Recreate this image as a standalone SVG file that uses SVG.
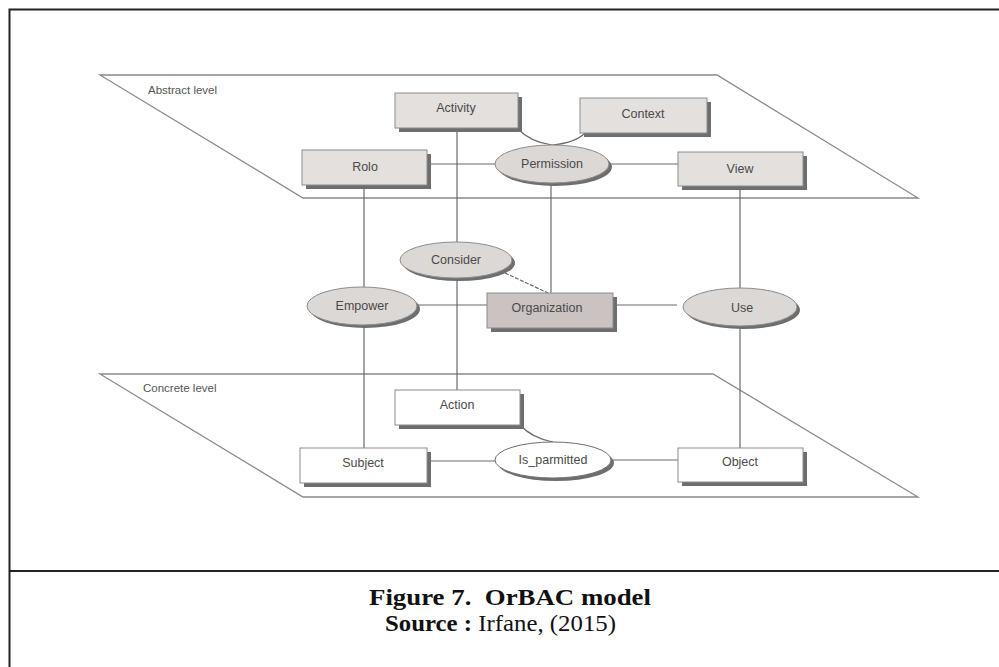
<svg xmlns="http://www.w3.org/2000/svg" width="999" height="667" viewBox="0 0 999 667">
<style>
.plane{fill:none;stroke:#8a8a8a;stroke-width:1.3}
.lvl{font-family:"Liberation Sans",Arial,sans-serif;font-size:11.5px;fill:#555}
.box{fill:#e4e0de;stroke:#8c8c8c;stroke-width:1}
.wbox{fill:#ffffff;stroke:#8c8c8c;stroke-width:1}
.obox{fill:#cbc2c2;stroke:#8c8c8c;stroke-width:1}
.sh{fill:#6e6e6e}
.ell{fill:#dcd8d6;stroke:#8c8c8c;stroke-width:1}
.well{fill:#ffffff;stroke:#6e6e6e;stroke-width:1}
.lbl{font-family:"Liberation Sans",Arial,sans-serif;font-size:12.5px;fill:#4a4a4a;text-anchor:middle}
.con{fill:none;stroke:#6a6a6a;stroke-width:1.2}
.cap{font-family:"Liberation Serif","Times New Roman",serif;font-size:23px;fill:#111}
</style>
<rect width="999" height="667" fill="#ffffff"/>
<g id="frame" fill="none" stroke="#222" stroke-width="2">
<path d="M9.5,667 V9.5 H999"/>
<line x1="9" y1="571" x2="999" y2="571"/>
</g>
<g id="abstract-level">
<polygon class="plane" points="100,75 717,75 918,198 303,198"/>
<text class="lvl" x="148" y="94">Abstract level</text>
</g>
<g id="concrete-level">
<polygon class="plane" points="100,374 713,374 918,497 303,497"/>
<text class="lvl" x="143" y="392">Concrete level</text>
</g>
<g id="connectors">
<line class="con" x1="457" y1="128" x2="457" y2="390"/>
<line class="con" x1="364" y1="185" x2="364" y2="448"/>
<line class="con" x1="740" y1="185" x2="740" y2="448"/>
<line class="con" x1="551" y1="183" x2="551" y2="293"/>
<line class="con" x1="427" y1="164" x2="495" y2="164"/>
<line class="con" x1="609" y1="164" x2="678" y2="164"/>
<path class="con" d="M517,128 Q530,142 552,145"/>
<path class="con" d="M585,133 Q575,143 552,145"/>
<line class="con" x1="417" y1="305" x2="487" y2="305"/>
<line class="con" x1="613" y1="305" x2="677" y2="305"/>
<line class="con" x1="505" y1="273" x2="548" y2="293" stroke-dasharray="4,1.5"/>
<line class="con" x1="427" y1="461" x2="495" y2="461"/>
<line class="con" x1="611" y1="460" x2="678" y2="460"/>
<path class="con" d="M520,425 Q532,438 553,442"/>
</g>
<g id="activity">
<rect class="sh" x="399" y="97" width="123" height="35"/>
<rect class="box" x="395" y="93" width="123" height="35"/>
<text class="lbl" x="456" y="112">Activity</text>
</g>
<g id="context">
<rect class="sh" x="584" y="102" width="127" height="35"/>
<rect class="box" x="580" y="98" width="127" height="35"/>
<text class="lbl" x="643" y="118">Context</text>
</g>
<g id="role">
<rect class="sh" x="306" y="154" width="125" height="35"/>
<rect class="box" x="302" y="150" width="125" height="35"/>
<text class="lbl" x="365" y="171">Rolo</text>
</g>
<g id="permission">
<ellipse class="sh" cx="555" cy="167" rx="57" ry="19"/>
<ellipse class="ell" cx="552" cy="164" rx="57" ry="19"/>
<text class="lbl" x="552" y="168">Permission</text>
</g>
<g id="view">
<rect class="sh" x="682" y="156" width="125" height="34"/>
<rect class="box" x="678" y="152" width="125" height="34"/>
<text class="lbl" x="740" y="173">View</text>
</g>
<g id="consider">
<ellipse class="sh" cx="459" cy="263" rx="56" ry="18"/>
<ellipse class="ell" cx="456" cy="260" rx="56" ry="18"/>
<text class="lbl" x="456" y="264">Consider</text>
</g>
<g id="empower">
<ellipse class="sh" cx="365" cy="309" rx="55" ry="19"/>
<ellipse class="ell" cx="362" cy="306" rx="55" ry="19"/>
<text class="lbl" x="362" y="310">Empower</text>
</g>
<g id="organization">
<rect class="sh" x="491" y="297" width="126" height="35"/>
<rect class="obox" x="487" y="293" width="126" height="35"/>
<text class="lbl" x="547" y="312">Organization</text>
</g>
<g id="use">
<ellipse class="sh" cx="743" cy="310" rx="57" ry="19"/>
<ellipse class="ell" cx="740" cy="307" rx="57" ry="19"/>
<text class="lbl" x="742" y="312">Use</text>
</g>
<g id="action">
<rect class="sh" x="399" y="394" width="125" height="35"/>
<rect class="wbox" x="395" y="390" width="125" height="35"/>
<text class="lbl" x="457" y="409">Action</text>
</g>
<g id="subject">
<rect class="sh" x="304" y="452" width="127" height="35"/>
<rect class="wbox" x="300" y="448" width="127" height="35"/>
<text class="lbl" x="363" y="467">Subject</text>
</g>
<g id="is-permitted">
<ellipse class="sh" cx="556" cy="463" rx="58" ry="18"/>
<ellipse class="well" cx="553" cy="460" rx="58" ry="18"/>
<text class="lbl" x="553" y="464">Is_parmitted</text>
</g>
<g id="object">
<rect class="sh" x="682" y="452" width="125" height="34"/>
<rect class="wbox" x="678" y="448" width="125" height="34"/>
<text class="lbl" x="740" y="466">Object</text>
</g>
<g id="caption">
<text class="cap" x="369" y="605" font-weight="bold" textLength="282" lengthAdjust="spacingAndGlyphs">Figure 7.&#160; OrBAC model</text>
<text class="cap" x="385" y="631" textLength="231" lengthAdjust="spacingAndGlyphs"><tspan font-weight="bold">Source :</tspan> Irfane, (2015)</text>
</g>
</svg>
